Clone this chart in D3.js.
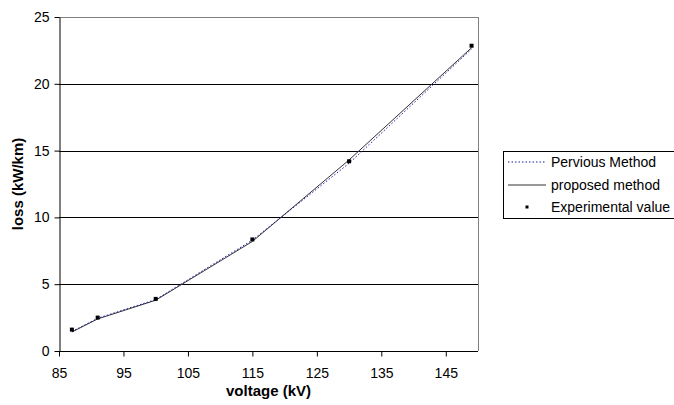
<!DOCTYPE html>
<html>
<head>
<meta charset="utf-8">
<script src="https://cdn.jsdelivr.net/npm/d3@7"></script>
<style>
  html, body { margin: 0; padding: 0; background: #fff; }
  svg { display: block; font-family: "Liberation Sans", Arial, sans-serif; }
</style>
</head>
<body>
<svg id="chart" width="674" height="405"></svg>
<script>
// ---- data ----
const voltage = [87, 91, 100, 115, 130, 149];
const perviousMethod = [1.45, 2.45, 3.85, 8.3, 14.05, 22.6];
const proposedMethod = [1.42, 2.4, 3.8, 8.2, 14.3, 22.7];
const experimentalValue = [1.6, 2.5, 3.9, 8.35, 14.2, 22.85];
const xTicks = [85, 95, 105, 115, 125, 135, 145];
const yTicks = [0, 5, 10, 15, 20, 25];
const legendLabels = ["Pervious Method", "proposed method", "Experimental value"];

// ---- layout ----
const svg = d3.select("#chart");
const L = 59, R = 478, T = 17, B = 351;
const x = d3.scaleLinear().domain([85, 150]).range([L, R]);
const y = d3.scaleLinear().domain([0, 25]).range([B, T]);
const FONT = "Liberation Sans, Arial, sans-serif";

// gridlines
svg.append("g").selectAll("line").data(yTicks.filter(d => d > 0)).join("line")
  .attr("x1", L).attr("x2", R)
  .attr("y1", d => Math.round(y(d)) + 0.5).attr("y2", d => Math.round(y(d)) + 0.5)
  .attr("stroke", d => d === 25 ? "#808080" : "#000").attr("stroke-width", 1);

// right border
svg.append("line").attr("x1", R + 0.5).attr("x2", R + 0.5).attr("y1", T).attr("y2", B)
  .attr("stroke", "#808080");

// axes
const xAxis = d3.axisBottom(x).tickValues(xTicks).tickSize(5).tickPadding(12).tickSizeOuter(0);
const gx = svg.append("g").attr("transform", `translate(0,${B + 0.5})`).call(xAxis);
gx.select(".domain").attr("stroke", "#000").attr("d", `M${L},0H${R}`);
gx.selectAll(".tick line").attr("stroke", "#000");
gx.selectAll("text").attr("font-size", 14).attr("fill", "#000").attr("font-family", FONT);

const yAxis = d3.axisLeft(y).tickValues(yTicks).tickSize(5).tickPadding(5).tickSizeOuter(0);
const gy = svg.append("g").attr("transform", `translate(${L + 0.5},0)`).call(yAxis);
gy.select(".domain").attr("stroke", "#000");
gy.selectAll(".tick line").attr("stroke", "#000");
gy.selectAll("text").attr("font-size", 14).attr("fill", "#000").attr("font-family", FONT);

// axis titles
svg.append("text").attr("x", (L + R) / 2).attr("y", 396).attr("text-anchor", "middle")
  .attr("font-size", 15).attr("font-weight", "bold").text("voltage (kV)");
svg.append("text").attr("transform", `translate(23,${(T + B) / 2}) rotate(-90)`)
  .attr("text-anchor", "middle").attr("font-size", 15).attr("font-weight", "bold")
  .text("loss (kW/km)");

// lines
const line = d3.line().x((d, i) => x(voltage[i])).y(d => y(d));
svg.append("path").datum(proposedMethod).attr("d", line)
  .attr("fill", "none").attr("stroke", "#333").attr("stroke-width", 1);
svg.append("path").datum(perviousMethod).attr("d", line)
  .attr("fill", "none").attr("stroke", "#1a1aa6").attr("stroke-width", 1)
  .attr("stroke-dasharray", "1.5,2");

// experimental points
svg.append("g").selectAll("rect").data(experimentalValue).join("rect")
  .attr("x", (d, i) => x(voltage[i]) - 2).attr("y", d => y(d) - 2)
  .attr("width", 4).attr("height", 4).attr("fill", "#000");

// legend
const lg = svg.append("g");
lg.append("rect").attr("x", 503.5).attr("y", 151.5).attr("width", 175).attr("height", 67)
  .attr("fill", "#fff").attr("stroke", "#000");
const rows = [162, 185, 207];
lg.append("line").attr("x1", 508).attr("x2", 546).attr("y1", rows[0]).attr("y2", rows[0])
  .attr("stroke", "#1a1aa6").attr("stroke-dasharray", "1.5,2");
lg.append("line").attr("x1", 508).attr("x2", 546).attr("y1", rows[1]).attr("y2", rows[1])
  .attr("stroke", "#333");
lg.append("rect").attr("x", 525.5).attr("y", rows[2] - 1.5).attr("width", 3).attr("height", 3)
  .attr("fill", "#000");
lg.selectAll("text.lt").data(legendLabels).join("text").attr("class", "lt")
  .attr("x", 551).attr("y", (d, i) => rows[i] + 5).attr("font-size", 14).attr("fill", "#000")
  .attr("font-family", FONT)
  .text(d => d);
</script>
</body>
</html>
